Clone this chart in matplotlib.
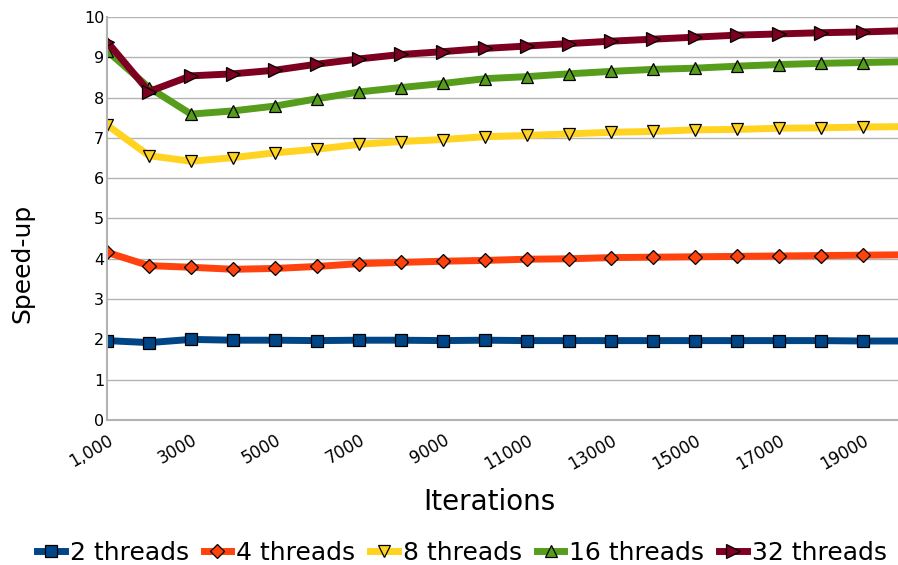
import matplotlib
matplotlib.use("Agg")
import matplotlib.pyplot as plt
import numpy as np

iterations = list(range(1000, 21000, 1000))

t2 = [1.97, 1.92, 2.00, 1.98, 1.98, 1.97, 1.98, 1.98, 1.97, 1.98,
      1.97, 1.97, 1.97, 1.97, 1.97, 1.97, 1.97, 1.97, 1.96, 1.96]
t4 = [4.16, 3.83, 3.79, 3.74, 3.76, 3.81, 3.88, 3.91, 3.94, 3.96,
      3.99, 4.00, 4.03, 4.04, 4.05, 4.06, 4.07, 4.08, 4.09, 4.10]
t8 = [7.32, 6.56, 6.42, 6.51, 6.63, 6.72, 6.84, 6.91, 6.96, 7.03,
      7.06, 7.10, 7.14, 7.16, 7.20, 7.21, 7.24, 7.25, 7.27, 7.28]
t16 = [9.16, 8.25, 7.59, 7.67, 7.79, 7.97, 8.14, 8.25, 8.35, 8.47,
       8.52, 8.59, 8.65, 8.70, 8.73, 8.78, 8.82, 8.85, 8.87, 8.89]
t32 = [9.39, 8.15, 8.54, 8.59, 8.68, 8.83, 8.96, 9.07, 9.14, 9.22,
       9.28, 9.34, 9.40, 9.45, 9.50, 9.55, 9.58, 9.61, 9.63, 9.66]

xtick_vals = list(range(1000, 20000, 2000))
xtick_labels = ["1,000"] + [str(v) for v in xtick_vals[1:]]

series = [
    ("2 threads", t2, "#004586", "s"),
    ("4 threads", t4, "#ff420e", "D"),
    ("8 threads", t8, "#ffd320", "v"),
    ("16 threads", t16, "#579d1c", "^"),
    ("32 threads", t32, "#7e0021", ">"),
]
msize = {"s": 8.5, "D": 7, "v": 9, "^": 9, ">": 9.5}

fig = plt.figure(figsize=(8.98, 5.65), dpi=100)
ax = fig.add_axes([107 / 898, (565 - 420) / 565, 1 - 107 / 898, (420 - 17) / 565])

for name, vals, col, mk in series:
    ax.plot(iterations, vals, color=col, lw=5, marker=mk, ms=msize[mk],
            mfc=col, mec="black", mew=0.9, label=name, solid_joinstyle="miter")

ax.set_ylim(0, 10)
ax.set_xlim(1000, 1000 + 1000 * (898 - 107) / 42.0)
ax.set_yticks(range(0, 11))
ax.set_xticks(xtick_vals)
ax.set_xticklabels(xtick_labels, rotation=30, ha="right", rotation_mode="anchor")
ax.tick_params(axis="both", length=0, colors="black")
ax.tick_params(axis="x", pad=8, labelsize=12)
ax.tick_params(axis="y", pad=2, labelsize=11.5)
ax.grid(axis="y", color="#b3b3b3", lw=1)
ax.set_axisbelow(True)
for s in ("top", "right"):
    ax.spines[s].set_visible(False)
for s in ("left", "bottom"):
    ax.spines[s].set_color("#b3b3b3")
    ax.spines[s].set_linewidth(1.5)

fig.text(22 / 898, 1 - 263 / 565, "Speed-up", rotation=90, fontsize=18,
         ha="center", va="center")
fig.text(489 / 898, 1 - 502 / 565, "Iterations", fontsize=20,
         ha="center", va="center")

fig.legend(loc="center", bbox_to_anchor=(462 / 898, 1 - 553 / 565), ncol=5,
           frameon=False, fontsize=18, handlelength=1.1, handletextpad=0.2,
           columnspacing=0.6, borderaxespad=0, borderpad=0)

fig.savefig("out.png", dpi=100)
